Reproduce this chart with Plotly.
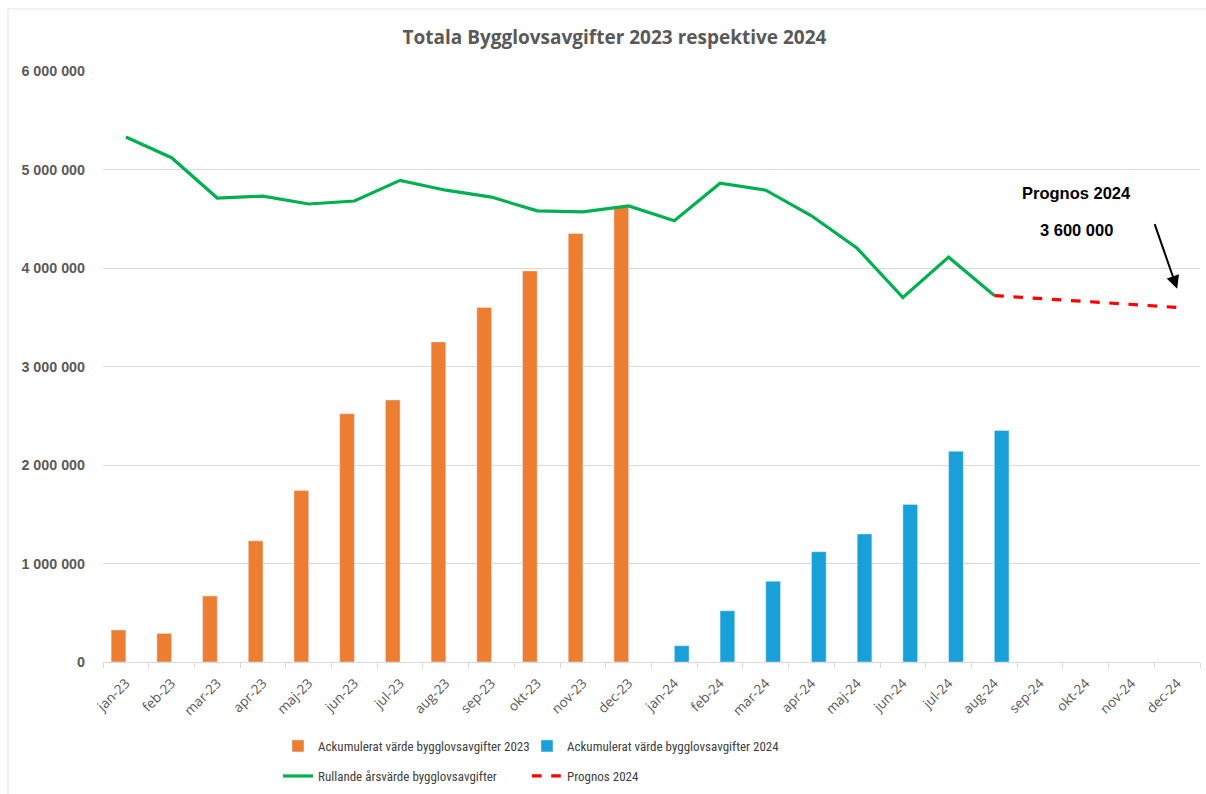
import plotly.graph_objects as go

months = ["jan-23", "feb-23", "mar-23", "apr-23", "maj-23", "jun-23", "jul-23", "aug-23",
          "sep-23", "okt-23", "nov-23", "dec-23", "jan-24", "feb-24", "mar-24", "apr-24",
          "maj-24", "jun-24", "jul-24", "aug-24", "sep-24", "okt-24", "nov-24", "dec-24"]

acc_2023 = [325000, 290000, 670000, 1230000, 1740000, 2520000, 2660000, 3250000,
            3600000, 3970000, 4350000, 4620000] + [None] * 12
acc_2024 = [None] * 12 + [165000, 520000, 820000, 1120000, 1300000, 1600000, 2140000, 2350000,
                          None, None, None, None]
rolling = [5330000, 5120000, 4710000, 4730000, 4650000, 4680000, 4890000, 4790000,
           4720000, 4580000, 4570000, 4630000, 4480000, 4860000, 4790000, 4530000,
           4200000, 3700000, 4110000, 3720000, None, None, None, None]
forecast = [None] * 19 + [3720000, None, None, None, 3600000]

title_text = "Totala Bygglovsavgifter 2023 respektive 2024"
tick_vals = [0, 1000000, 2000000, 3000000, 4000000, 5000000, 6000000]
tick_text = ["0", "1 000 000", "2 000 000", "3 000 000", "4 000 000", "5 000 000", "6 000 000"]

GRAY = "#595959"
LEG_FONT = dict(family="Noto Sans Condensed, Roboto Condensed, Liberation Sans Narrow, Lato, sans-serif",
                size=13, color="#404040")

fig = go.Figure()
fig.add_trace(go.Bar(x=months, y=acc_2023, name="Ackumulerat värde bygglovsavgifter 2023",
                     marker=dict(color="#ed7d31"), legend="legend"))
fig.add_trace(go.Bar(x=months, y=acc_2024, name="Ackumulerat värde bygglovsavgifter 2024",
                     marker=dict(color="#1aa0d8"), legend="legend2"))
fig.add_trace(go.Scatter(x=months, y=rolling, name="Rullande årsvärde bygglovsavgifter",
                         mode="lines", line=dict(color="#00b050", width=3.2), legend="legend3"))
fig.add_trace(go.Scatter(x=months, y=forecast, name="Prognos 2024", mode="lines",
                         connectgaps=True,
                         line=dict(color="#ff0000", width=3.2, dash="dash"), legend="legend4"))

PW, PH, L, T = 1097, 591, 103, 71


def leg(xpx, ypx):
    return dict(orientation="h", x=xpx / 1206, xanchor="left", xref="container",
                y=1 - ypx / 794, yanchor="middle", yref="container",
                font=LEG_FONT, bgcolor="rgba(0,0,0,0)")


fig.update_layout(
    width=1206, height=794,
    paper_bgcolor="white", plot_bgcolor="white",
    margin=dict(l=L, r=1206 - L - PW, t=T, b=794 - T - PH, autoexpand=False),
    barmode="group", bargap=0.357, bargroupgap=0,
    title=dict(text=title_text, x=0.5095, xanchor="center", xref="container",
               y=1 - 37 / 794, yanchor="middle", yref="container",
               font=dict(family="Open Sans, sans-serif", size=19, color=GRAY, weight="bold")),
    showlegend=True,
    legend=leg(278, 746),
    legend2=leg(527, 746),
    legend3=leg(278, 776),
    legend4=leg(527, 776),
    xaxis=dict(type="category", tickangle=-45, showgrid=False,
               showline=True, linecolor="#d9d9d9", linewidth=1,
               ticks="outside", tickson="boundaries", ticklen=5, tickcolor="#d9d9d9",
               ticklabelstandoff=7,
               tickfont=dict(family="Open Sans, sans-serif", size=13.5, color=GRAY),
               range=[-0.5, 23.5]),
    yaxis=dict(range=[0, 6000000], tickvals=tick_vals, ticktext=tick_text,
               showgrid=True, gridcolor="#d9d9d9", gridwidth=1, zeroline=False,
               showline=False, ticks="", ticklabelstandoff=17,
               tickfont=dict(family="Liberation Sans, Arial, sans-serif", size=14.3, color=GRAY,
                             weight="bold")),
    annotations=[
        dict(x=20.79, y=4760000, xref="x", yref="y", text="Prognos 2024", showarrow=False,
             font=dict(family="Liberation Sans, Arial, sans-serif", size=16.5, color="black",
                       weight="bold")),
        dict(x=20.79, y=4385000, xref="x", yref="y", text="3 600 000", showarrow=False,
             font=dict(family="Liberation Sans, Arial, sans-serif", size=16.5, color="black",
                       weight="bold")),
        dict(x=23, y=3790000, xref="x", yref="y", text="", showarrow=True,
             ax=-23, ay=-66, arrowhead=2, arrowsize=1.3, arrowwidth=2, arrowcolor="black"),
    ],
    shapes=[dict(type="rect", xref="paper", yref="paper",
                 x0=(8 - L) / PW, x1=(1215 - L) / PW,
                 y0=(T + PH - 805) / PH, y1=(T + PH - 9) / PH,
                 line=dict(color="#e3e3e3", width=1), fillcolor="rgba(0,0,0,0)", layer="below")],
)

fig.write_html("out.html", config={"displayModeBar": False},
               post_script="document.body.style.margin='0';document.body.style.padding='0';")
